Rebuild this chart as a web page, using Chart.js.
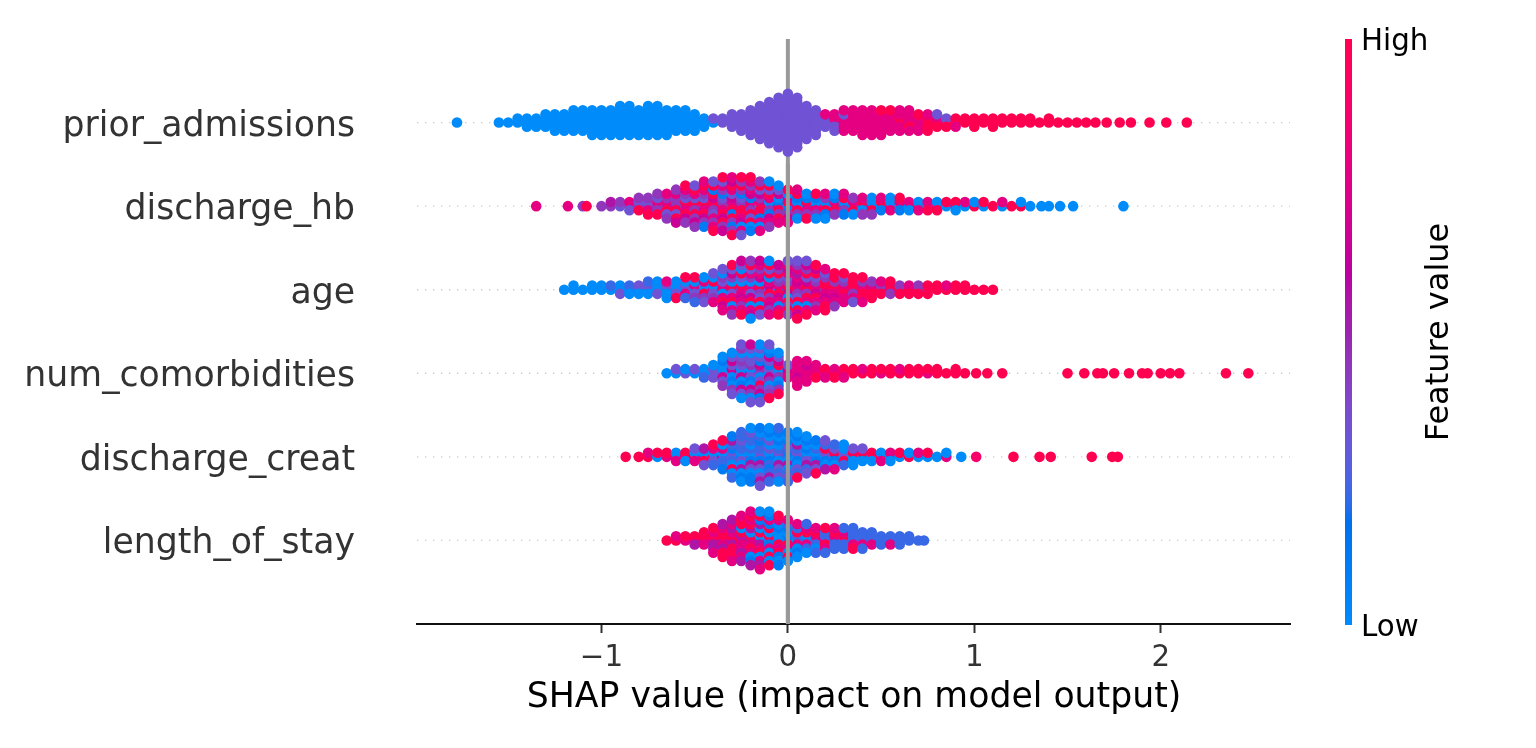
<!DOCTYPE html>
<html>
<head>
<meta charset="utf-8">
<script src="https://cdn.jsdelivr.net/npm/chart.js@4.4.1/dist/chart.umd.min.js"></script>
<style>
  html, body { margin: 0; padding: 0; background: #fff; }
  #wrap { width: 1536px; height: 748px; }
</style>
</head>
<body>
<div id="wrap"><canvas id="shapChart" width="1536" height="748"></canvas></div>
<script>
// =========================
// DATA
// =========================
// rows from bottom (y = 0) to top (y = 5)
const features = ["length_of_stay", "discharge_creat", "num_comorbidities", "age", "discharge_hb", "prior_admissions"];
const xTicks = [-1, 0, 1, 2];

// each column: a SHAP value, and one digit per point = its feature value (0 low ... 9 high)
const priorX = [-1.775, -1.55, -1.50, -1.45, -1.40, -1.35, -1.30, -1.25, -1.20, -1.15, -1.10, -1.05, -1.00, -0.95, -0.90, -0.85, -0.80, -0.75, -0.70, -0.65, -0.60, -0.55, -0.50, -0.45, -0.40, -0.35, -0.30, -0.25, -0.20, -0.15, -0.10, -0.05, 0.00, 0.05, 0.10, 0.15, 0.20, 0.25, 0.30, 0.35, 0.40, 0.45, 0.50, 0.55, 0.60, 0.65, 0.70, 0.75, 0.80, 0.85, 0.90, 0.95, 1.00, 1.05, 1.10, 1.15, 1.20, 1.25, 1.30, 1.35, 1.40, 1.45, 1.50, 1.55, 1.60, 1.65, 1.71, 1.78, 1.84, 1.94, 2.03, 2.14];
const priorFV = ["0", "0", "0", "00", "000", "000", "0000", "00000", "00000", "000000", "000000", "0000000", "0000000", "0000000", "00000000", "00000000", "0000000", "00000000", "00000000", "0000000", "000000", "000000", "00000", "000", "03", "33", "3333", "33333", "3333333", "333333333", "33333333333", "3333333333333", "333333333333333", "3333333333333", "333333333", "3333333", "3337", "37373", "777377", "777777", "7777777", "7777777", "7777797", "777779", "797777", "779777", "97797", "79979", "9793", "939", "997", "99", "999", "99", "999", "99", "99", "99", "99", "9", "99", "9", "9", "9", "9", "9", "9", "9", "9", "9", "9", "9"];

const hbX = [-1.35, -1.18, -1.10, -1.08, -1.00, -0.95, -0.90, -0.85, -0.80, -0.75, -0.70, -0.65, -0.60, -0.55, -0.50, -0.45, -0.40, -0.35, -0.30, -0.25, -0.20, -0.15, -0.10, -0.05, 0.00, 0.05, 0.10, 0.15, 0.20, 0.25, 0.30, 0.35, 0.40, 0.45, 0.50, 0.55, 0.60, 0.65, 0.70, 0.75, 0.80, 0.85, 0.90, 0.95, 1.00, 1.05, 1.10, 1.15, 1.20, 1.25, 1.30, 1.36, 1.40, 1.46, 1.53, 1.80];
const hbFV = ["7", "7", "4", "9", "4", "45", "34", "473", "4394", "43749", "474394", "4794374", "749437946", "4973946749", "79439749634", "497394674917", "7946397149739", "94739164974369", "479613974916479", "749391746904793", "97419637940719", "0794961379047", "904719637940", "7190469370", "091740697", "70914907", "0971409", "9071490", "7094170", "079140", "904917", "07940", "19074", "70904", "0917", "9070", "0719", "070", "907", "079", "709", "09", "790", "07", "90", "09", "9", "07", "9", "90", "0", "0", "0", "0", "0", "0"];

const ageX = [-1.20, -1.15, -1.10, -1.05, -1.00, -0.95, -0.90, -0.85, -0.80, -0.75, -0.70, -0.65, -0.60, -0.55, -0.50, -0.45, -0.40, -0.35, -0.30, -0.25, -0.20, -0.15, -0.10, -0.05, 0.00, 0.05, 0.10, 0.15, 0.20, 0.25, 0.30, 0.35, 0.40, 0.45, 0.50, 0.55, 0.60, 0.65, 0.70, 0.75, 0.80, 0.85, 0.90, 0.95, 1.00, 1.05, 1.10];
const ageFV = ["0", "00", "0", "00", "00", "02", "003", "020", "030", "0302", "0030", "03070", "20309", "037029", "0730492", "3097403", "70394073", "97037490637", "7930749603794", "49706379407396", "973064970379640", "79403697049736", "36974079634970", "0794637904769", "79640397469743", "974637950794639", "79469379047693", "976493794679", "49796473979", "797469794", "97947379", "7949793", "9794997", "97949", "9497", "7949", "949", "979", "949", "499", "99", "97", "99", "99", "9", "9", "9"];

const comorbX = [-0.65, -0.60, -0.55, -0.50, -0.45, -0.40, -0.35, -0.30, -0.25, -0.20, -0.15, -0.10, -0.05, 0.00, 0.05, 0.10, 0.15, 0.20, 0.25, 0.30, 0.35, 0.40, 0.45, 0.50, 0.55, 0.60, 0.65, 0.70, 0.75, 0.80, 0.85, 0.90, 0.95, 1.01, 1.07, 1.15, 1.50, 1.59, 1.66, 1.69, 1.75, 1.83, 1.90, 1.93, 2.00, 2.05, 2.10, 2.35, 2.47];
const comorbFV = ["0", "03", "30", "03", "302", "0330", "30603140", "36031603403", "30630413603403", "603413036043063", "340631934063103", "03614306314093", "30490613409", "7673", "7767777", "777677", "7797", "797", "979", "797", "99", "97", "99", "79", "99", "97", "99", "99", "79", "99", "9", "99", "9", "9", "9", "9", "9", "9", "9", "9", "9", "9", "9", "9", "9", "9", "9", "9", "9"];

const creatX = [-0.87, -0.80, -0.75, -0.70, -0.65, -0.60, -0.55, -0.50, -0.45, -0.40, -0.35, -0.30, -0.25, -0.20, -0.15, -0.10, -0.05, 0.00, 0.05, 0.10, 0.15, 0.20, 0.25, 0.30, 0.35, 0.40, 0.45, 0.50, 0.55, 0.60, 0.65, 0.70, 0.75, 0.80, 0.85, 0.93, 1.01, 1.21, 1.35, 1.41, 1.63, 1.74, 1.77];
const creatFV = ["9", "9", "97", "09", "79", "907", "790", "9073", "70953", "903729", "50272019", "03210295012", "1032025302120", "30125032021310", "031252310230513", "20132013205120", "13025031203102", "3102530120312", "031205302190", "2031502130", "301250319", "03190253", "0913027", "039020", "09030", "0903", "090", "907", "070", "09", "90", "07", "09", "0", "70", "0", "8", "9", "9", "9", "9", "9", "9"];

const stayX = [-0.65, -0.60, -0.55, -0.50, -0.45, -0.40, -0.35, -0.30, -0.25, -0.20, -0.15, -0.10, -0.05, 0.00, 0.05, 0.10, 0.15, 0.20, 0.25, 0.30, 0.35, 0.40, 0.45, 0.50, 0.55, 0.60, 0.65, 0.70, 0.73];
const stayFV = ["9", "97", "79", "795", "5979", "7957597", "597957959", "79579597957", "957970597957", "59709579071957", "705970950179507", "09107901970190", "1090719017091", "01907102970", "027902170", "20792702", "2729072", "7292792", "272927", "292722", "227292", "22722", "2272", "222", "227", "222", "22", "2", "2"];

// =========================
// COLOUR MAP (blue -> red through LCH, like shap's red_blue)
// =========================
function lchToRgb(l, c, h) {
    let a = c * Math.cos(h), b = c * Math.sin(h);
    let fy = (l + 16) / 116, fx = a / 500 + fy, fz = fy - b / 200;
    let f = t => t > 0.2068966 ? t * t * t : (t - 16 / 116) / 7.787;
    let X = f(fx) * 0.95047, Y = f(fy), Z = f(fz) * 1.08883;
    let lin = [
        3.24048134 * X - 1.53715152 * Y - 0.49853633 * Z,
        -0.96925495 * X + 1.87599 * Y + 0.04155593 * Z,
        0.05564664 * X - 0.20404134 * Y + 1.05731107 * Z
    ];
    return lin.map(v => {
        v = v > 0.0031308 ? 1.055 * Math.pow(v, 1 / 2.4) - 0.055 : 12.92 * v;
        return Math.round(Math.min(1, Math.max(0, v)) * 255);
    });
}

function colorAt(t) {
    let l = t < 0.5 ? 54 - 28 * t : 40 + 28 * (t - 0.5);
    let c = 70 + 20 * t;
    let h = 4.6588 + t * (0.35470565 + 2 * Math.PI - 4.6588);
    let rgb = lchToRgb(l, c, h);
    return "rgb(" + rgb.join(",") + ")";
}

// =========================
// BEESWARM LAYOUT
// =========================
const SPREAD = 0.345;   // half height of the fullest column, in row units

function buildRow(row, xs, fvs) {
    let maxLayer = 1;
    fvs.forEach(s => { maxLayer = Math.max(maxLayer, Math.ceil((s.length - 1) / 2)); });
    let step = SPREAD / maxLayer;
    let pts = [], cols = [];
    xs.forEach((x, i) => {
        let s = fvs[i];
        for (let k = 0; k < s.length; k++) {
            let layer = Math.ceil(k / 2) * (k % 2 ? 1 : -1);
            pts.push({ x: x, y: row + layer * step });
            cols.push(colorAt(parseInt(s[k]) / 9));
        }
    });
    return { pts, cols };
}

const rows = [
    buildRow(0, stayX, stayFV),
    buildRow(1, creatX, creatFV),
    buildRow(2, comorbX, comorbFV),
    buildRow(3, ageX, ageFV),
    buildRow(4, hbX, hbFV),
    buildRow(5, priorX, priorFV)
];

const FONT = "'DejaVu Sans', 'Liberation Sans', sans-serif";

// =========================
// DECORATIONS (guides, zero line, colour bar, titles)
// =========================
const shapDecor = {
    id: "shapDecor",
    beforeDatasetsDraw(chart) {
        const { ctx, chartArea: a, scales: { x, y } } = chart;
        ctx.save();
        ctx.strokeStyle = "#cccccc";
        ctx.lineWidth = 1.33;
        ctx.setLineDash([1.33, 6.67]);
        features.forEach((f, i) => {
            let py = y.getPixelForValue(i);
            ctx.beginPath();
            ctx.moveTo(a.left, py);
            ctx.lineTo(a.right, py);
            ctx.stroke();
        });
        ctx.setLineDash([]);
        ctx.strokeStyle = "#999999";
        ctx.lineWidth = 4;
        let px = x.getPixelForValue(0);
        ctx.beginPath();
        ctx.moveTo(px, a.top);
        ctx.lineTo(px, a.bottom);
        ctx.stroke();
        ctx.restore();
    },
    afterDatasetsDraw(chart) {
        // zero line shows through the lower rows
        const { ctx, chartArea: a, scales: { x, y } } = chart;
        ctx.save();
        ctx.strokeStyle = "#999999";
        ctx.lineWidth = 4;
        let px = x.getPixelForValue(0);
        ctx.beginPath();
        ctx.moveTo(px, y.getPixelForValue(4.5));
        ctx.lineTo(px, a.bottom);
        ctx.stroke();
        ctx.restore();
    },
    afterDraw(chart) {
        const { ctx, chartArea: a } = chart;
        ctx.save();

        // colour bar
        let barX = a.right + 55, barW = 7, top = a.top, bottom = a.bottom + 1;
        let grad = ctx.createLinearGradient(0, bottom, 0, top);
        for (let i = 0; i <= 40; i++) grad.addColorStop(i / 40, colorAt(i / 40));
        ctx.fillStyle = grad;
        ctx.fillRect(barX, top, barW, bottom - top);

        ctx.fillStyle = "#000";
        ctx.font = "29.3px " + FONT;
        ctx.textAlign = "left";
        ctx.textBaseline = "middle";
        ctx.fillText("High", barX + barW + 9, top + 3);
        ctx.fillText("Low", barX + barW + 9, bottom + 3);

        ctx.font = "32px " + FONT;
        ctx.textAlign = "center";
        ctx.translate(1440, (top + bottom) / 2);
        ctx.rotate(-Math.PI / 2);
        ctx.fillText("Feature value", 0, 0);
        ctx.restore();

        ctx.save();
        ctx.fillStyle = "#000";
        ctx.font = "34.7px " + FONT;
        ctx.textAlign = "center";
        ctx.textBaseline = "middle";
        ctx.fillText("SHAP value (impact on model output)", (a.left + a.right) / 2 + 0.5, 698);
        ctx.restore();
    }
};

function noEdgePadding(s) {
    s.paddingTop = 0;
    s.paddingBottom = 0;
    s.paddingLeft = 0;
    s.paddingRight = 0;
}

// =========================
// CHART
// =========================
new Chart(document.getElementById("shapChart"), {
    type: "scatter",
    data: {
        datasets: rows.map((r, i) => ({
            label: features[i],
            data: r.pts,
            pointBackgroundColor: r.cols,
            pointBorderWidth: 0,
            pointRadius: 5.3,
            pointHoverRadius: 5.3
        }))
    },
    options: {
        responsive: false,
        animation: false,
        devicePixelRatio: 1,
        events: [],
        layout: { padding: { left: 0, right: 246, top: 39, bottom: 0 } },
        plugins: { legend: { display: false }, tooltip: { enabled: false } },
        scales: {
            x: {
                type: "linear",
                min: -1.9895,
                max: 2.6935,
                afterBuildTicks: s => { s.ticks = xTicks.map(v => ({ value: v })); },
                afterFit: s => { s.height = 124; noEdgePadding(s); },
                grid: { drawOnChartArea: false, drawTicks: true, tickLength: 9, tickColor: "#333333", tickWidth: 2 },
                border: { display: true, color: "#111", width: 2 },
                ticks: {
                    padding: 8,
                    color: "#333333",
                    font: { family: FONT, size: 29.3 },
                    maxRotation: 0,
                    callback: v => (v < 0 ? "\u2212" + Math.abs(v) : String(v))
                }
            },
            y: {
                type: "linear",
                min: -1,
                max: 6,
                afterBuildTicks: s => { s.ticks = features.map((f, i) => ({ value: i })); },
                afterFit: s => { s.width = 417; noEdgePadding(s); },
                grid: { display: false, drawTicks: false },
                border: { display: false },
                ticks: {
                    padding: 62,
                    labelOffset: 4,
                    color: "#333333",
                    font: { family: FONT, size: 34.7 },
                    callback: v => features[v]
                }
            }
        }
    },
    plugins: [shapDecor]
});
</script>
</body>
</html>
